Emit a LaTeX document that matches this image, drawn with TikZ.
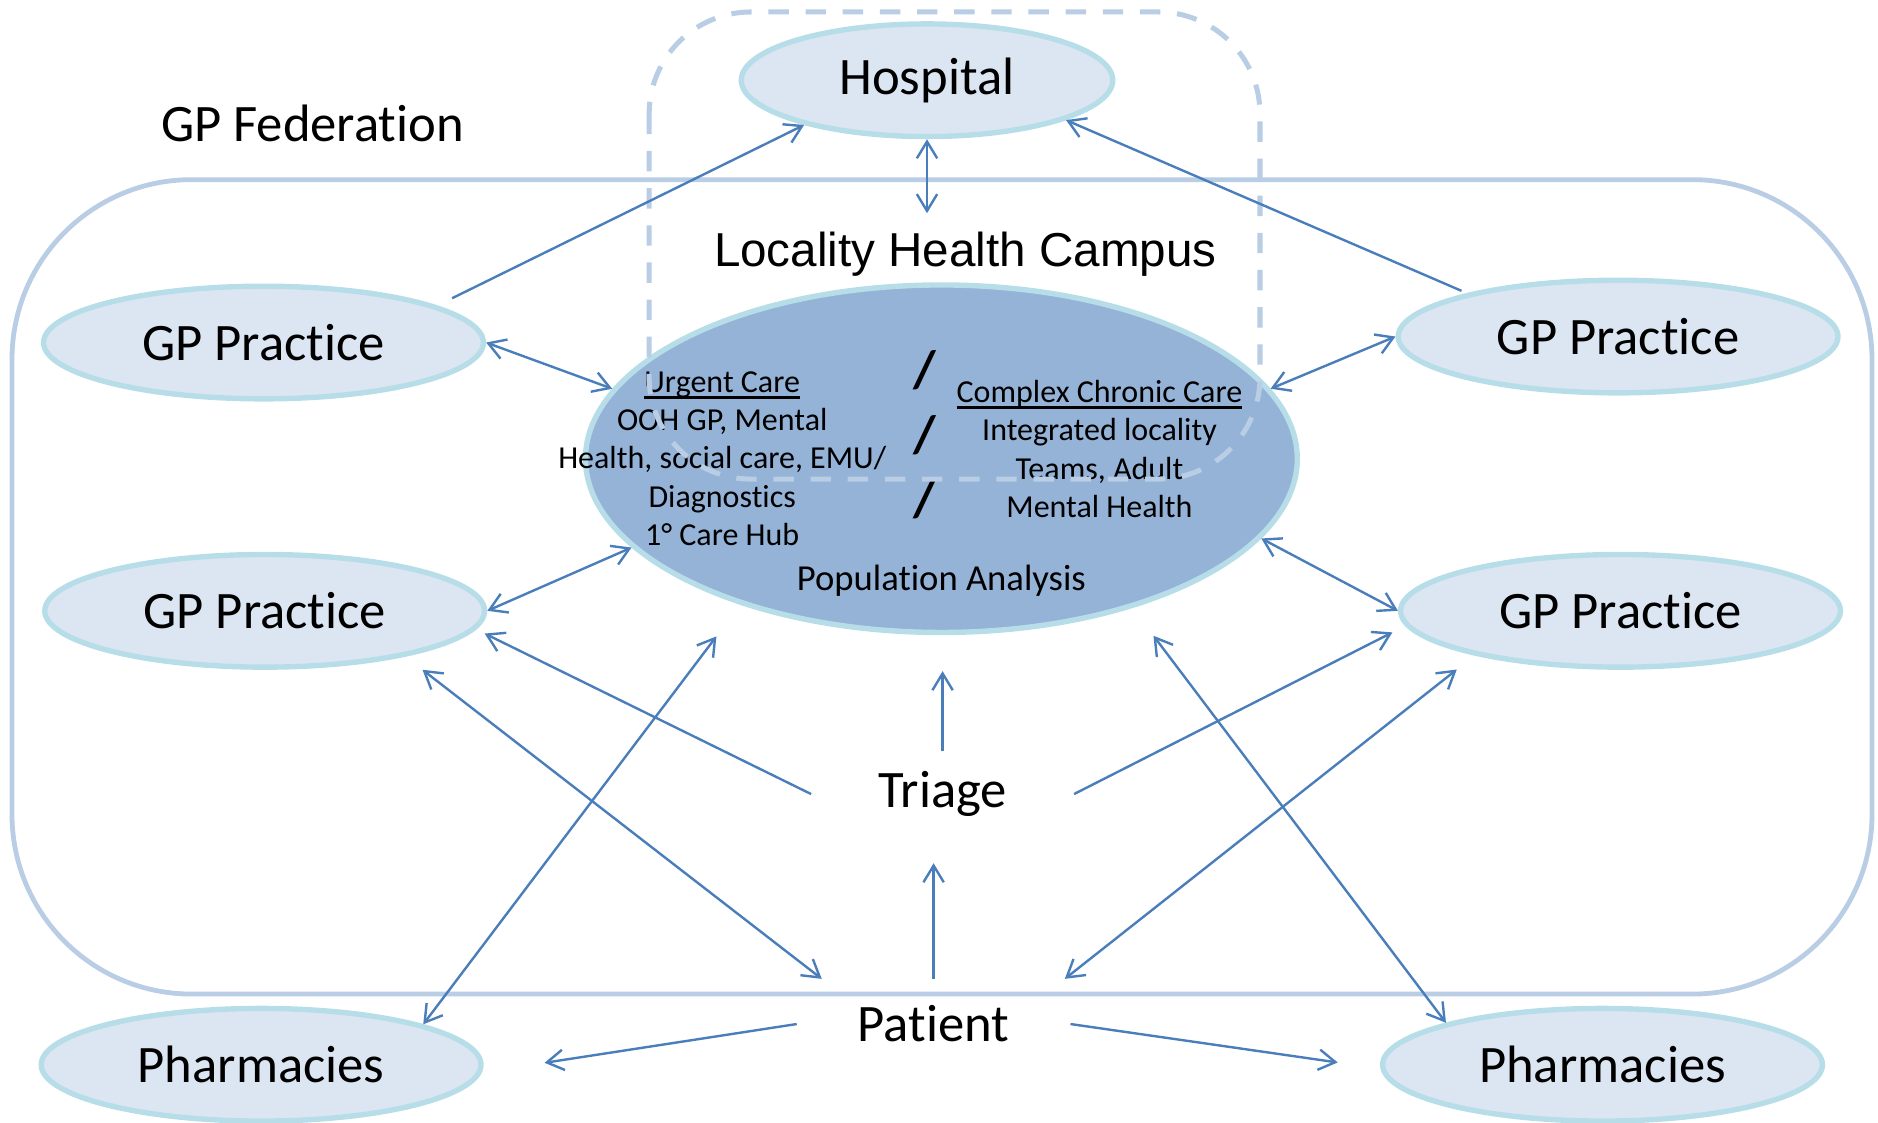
\documentclass[tikz,border=0pt]{standalone}
\usepackage{fontspec}
\setmainfont{Carlito}[Ligatures=NoCommon]
\newfontfamily\arialfont{Liberation Sans}
\usetikzlibrary{shapes.geometric,arrows.meta}
\definecolor{lfill}{HTML}{DCE6F2}
\definecolor{lrim}{HTML}{B7DEE8}
\definecolor{cfill}{HTML}{95B3D7}
\definecolor{fedline}{HTML}{B9CDE5}
\definecolor{arrblue}{HTML}{4A7EBB}
\newcommand{\ulbar}[1]{\setbox0=\hbox{#1}\rlap{\rule[-1.5pt]{\wd0}{0.6pt}}\box0}
\tikzset{lnode/.style={ellipse,draw=lrim,fill=lfill,line width=0.045cm,inner sep=0pt,
		minimum width=3.67cm,minimum height=0.94cm,font=\fontsize{12.5}{15}\selectfont},
	 cnode/.style={ellipse,draw=lrim,fill=cfill,line width=0.045cm,inner sep=0pt,
		minimum width=5.94cm,minimum height=2.9cm},
	 lbl/.style={inner sep=0pt,font=\fontsize{12.5}{15}\selectfont},
	 small/.style={inner sep=0pt,align=center,font=\fontsize{7.6}{9.1}\selectfont},
	 arr/.style={draw=arrblue,line width=0.02cm,-{Straight Barb[length=0.14cm,width=0.17cm]}},
	 darr/.style={arr,{Straight Barb[length=0.14cm,width=0.17cm]}-{Straight Barb[length=0.14cm,width=0.17cm]}}
	 }

\begin{document}
\begin{tikzpicture}[x=0.01cm,y=-0.01cm] % GP federation and locality campus
	\useasboundingbox (0,0) rectangle (1568,937.6);
	\draw[fedline,line width=0.04cm,rounded corners=1.5cm] (10,150) rectangle (1563,830);
	\node[lbl] (fed) at (261,103) {GP Federation};
	\node[lnode,minimum width=3.1cm] (hosp) at (774,67) {Hospital};
	\node[inner sep=0pt,font=\arialfont\fontsize{11.3}{13}\selectfont] (campus) at (806,212) {Locality Health Campus};
	\node[cnode] (lhc) at (786,383) {};
	\node[small] (urgent) at (603,383) {\ulbar{Urgent Care}\\OOH GP, Mental\\Health, social care, EMU/\\Diagnostics\\1° Care Hub};
	\node[lbl,align=center,font=\bfseries\fontsize{12.5}{15.3}\selectfont] (slash) at (772,363) {/\\/\\/};
	\node[small] (chronic) at (918,375) {\ulbar{Complex Chronic Care}\\Integrated locality\\Teams, Adult\\Mental Health};
	\node[small,font=\fontsize{8.7}{10}\selectfont] (pop) at (786,485) {Population Analysis};
	\node[lnode] (gptl) at (220,286) {GP Practice};
	\node[lnode] (gpbl) at (221,510) {GP Practice};
	\node[lnode] (gptr) at (1351,281) {GP Practice};
	\node[lnode] (gpbr) at (1353,510) {GP Practice};
	\node[lnode] (phl) at (218,889) {Pharmacies};
	\node[lnode] (phr) at (1338,889) {Pharmacies};
	\node[lbl,minimum width=2.18cm,minimum height=0.7cm] (triage) at (787,663) {Triage};
	\node[lbl,minimum width=2.27cm,minimum height=0.74cm] (patient) at (779.5,855) {Patient};
	\draw[fedline,line width=0.042cm,dash pattern=on 0.17cm off 0.14cm,rounded corners=0.85cm] (542,10) rectangle (1052,400);
	\coordinate (hcend) at (774,178);
	\draw[arr,shorten <=0.14cm] (gptl.12.7) -- (hosp.-160.4);
	\draw[arr,shorten <=0.05cm] (gptr.164.9) -- (hosp.-16.7);
	\draw[darr] (hosp.south) -- (hcend);
	\draw[darr] (gptl.east) -- (lhc.168.5);
	\draw[darr] (gptr.west) -- (lhc.12);
	\draw[darr] (gpbl.east) -- (lhc.196.5);
	\draw[darr] (gpbr.west) -- (lhc.-14);
	\draw[arr,shorten >=0.08cm] (triage.west) -- (gpbl.-5);
	\draw[arr,shorten >=0.12cm] (triage.east) -- (gpbr.184.9);
	\draw[arr,shorten >=0.3cm] (triage.north) -- (triage.north |- lhc.south);
	\draw[arr,shorten >=0.22cm] (patient.north) -- (patient.north |- triage.south);
	\draw[darr,shorten <=0.18cm] (gpbl.-18.1) -- (patient.158.5);
	\draw[darr,shorten >=0.33cm] (phl.14) -- (lhc.216.6);
	\draw[darr,shorten <=0.19cm] (gpbr.197.1) -- (patient.19.3);
	\draw[darr,shorten >=0.29cm] (phr.165.8) -- (lhc.-38.8);
	\draw[arr,shorten >=0.53cm] (patient.west) -- (phl.-2.7);
	\draw[arr,shorten >=0.36cm] (patient.east) -- (phr.181.7);
\end{tikzpicture}
\end{document}
